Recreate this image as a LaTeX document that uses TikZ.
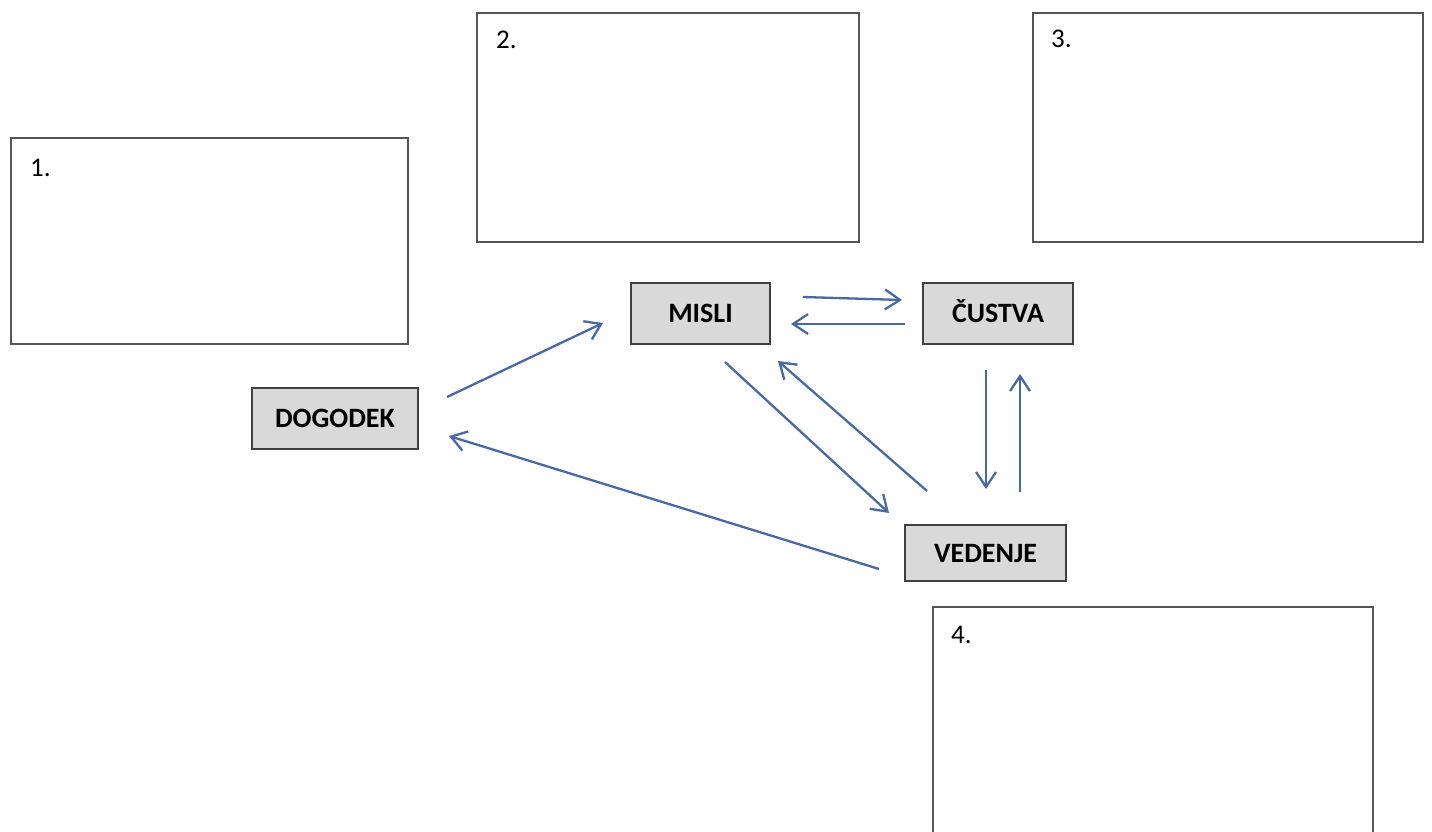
\documentclass[tikz,border=0pt]{standalone}
\usepackage{fontspec}
\setmainfont{Carlito}
\usetikzlibrary{arrows.meta,calc}
\definecolor{arrowblue}{RGB}{72,104,166}
\definecolor{boxgray}{RGB}{217,217,217}
\definecolor{boxedge}{RGB}{64,64,64}
\definecolor{frameedge}{RGB}{85,85,85}
\tikzset{
  conceptbox/.style={draw=boxedge, line width=2pt, fill=boxgray, inner sep=0pt,
    text height=18pt, text depth=0pt,
    font=\fontsize{28}{32}\selectfont\bfseries},
  answerbox/.style={draw=frameedge, line width=2pt, fill=white, inner sep=0pt, anchor=north west},
  numlabel/.style={anchor=base west, inner sep=0pt, font=\fontsize{27}{30}\selectfont},
  flow/.style={draw=arrowblue, line width=2.3pt, -{Straight Barb[length=15pt,width=20pt,line width=2.3pt]}}
}
\begin{document}
\begin{tikzpicture}[x=1pt,y=-1pt]
\clip (0,0) rectangle (1432,832);
\fill[white] (0,0) rectangle (1432,832);
% answer boxes
\node[answerbox, minimum width=397pt, minimum height=206pt] (b1) at (10,137) {};
\node[answerbox, minimum width=382pt, minimum height=229pt] (b2) at (476,12) {};
\node[answerbox, minimum width=390pt, minimum height=229pt] (b3) at (1032,12) {};
\node[answerbox, minimum width=440pt, minimum height=320pt] (b4) at (932,606) {};
\node[numlabel] (n1) at ([shift={(20,39)}]b1.north west) {1.};
\node[numlabel] (n2) at ([shift={(20,37)}]b2.north west) {2.};
\node[numlabel] (n3) at ([shift={(19,36)}]b3.north west) {3.};
\node[numlabel] (n4) at ([shift={(19,37)}]b4.north west) {4.};
% concept boxes
\node[conceptbox, minimum width=139pt, minimum height=61pt] (misli) at (700.5,313.5) {MISLI};
\node[conceptbox, minimum width=150pt, minimum height=61pt] (custva) at (998,313.5) {ČUSTVA};
\node[conceptbox, minimum width=166pt, minimum height=61pt] (dogodek) at (335,418.5) {DOGODEK};
\node[conceptbox, minimum width=161pt, minimum height=56pt] (vedenje) at (985.5,553) {VEDENJE};
% connectors
\draw[flow] ([shift={(28,-21.5)}]dogodek.east) -- ([shift={(-27,9.5)}]misli.west);
\draw[flow] ([shift={(-25,16)}]vedenje.west) -- ([shift={(30,17.5)}]dogodek.east);
\draw[flow] ([shift={(32,-16.5)}]misli.east) -- ([shift={(-20,-13.5)}]custva.west);
\draw[flow] ([shift={(-17,10.5)}]custva.west) -- ([shift={(20,10.5)}]misli.east);
\draw[flow] ([shift={(24.5,17)}]misli.south) -- ([shift={(-15,-11)}]vedenje.north west);
\draw[flow] ([shift={(23,-33)}]vedenje.north west) -- ([shift={(7,16)}]misli.south east);
\draw[flow] ([shift={(-12,25)}]custva.south) -- ([shift={(0.5,-35)}]vedenje.north);
\draw[flow] ([shift={(34.5,-32)}]vedenje.north) -- ([shift={(22,29)}]custva.south);
\end{tikzpicture}
\end{document}
